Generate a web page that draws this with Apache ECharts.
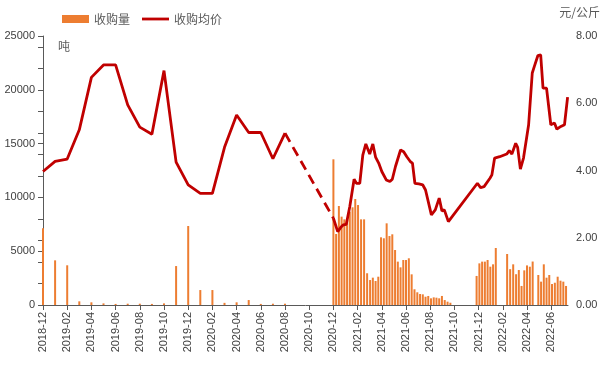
<!DOCTYPE html>
<html><head><meta charset="utf-8">
<script src="https://cdn.jsdelivr.net/npm/echarts@6/dist/echarts.min.js"></script>
<style>html,body{margin:0;padding:0;background:#fff}#c{width:608px;height:373px}</style>
</head><body><div id="c"></div>
<script>
// ---- data ----
const xTickLabels = ['2018-12','2019-02','2019-04','2019-06','2019-08','2019-10','2019-12','2020-02','2020-04','2020-06','2020-08','2020-10','2020-12','2021-02','2021-04','2021-06','2021-08','2021-10','2021-12','2022-02','2022-04','2022-06'];
const leftTicks = [0, 5000, 10000, 15000, 20000, 25000];
const rightTicks = [0, 2, 4, 6, 8];

const monthDates = ['2018-12-01','2019-01-01','2019-02-01','2019-03-01','2019-04-01','2019-05-01','2019-06-01','2019-07-01','2019-08-01','2019-09-01','2019-10-01','2019-11-01','2019-12-01','2020-01-01','2020-02-01','2020-03-01','2020-04-01','2020-05-01','2020-06-01','2020-07-01','2020-08-01'];
const monthVolume = [7130,4150,3690,340,250,150,100,120,120,100,150,3620,7340,1390,1390,200,250,460,100,120,120];
const monthPrice = [3.97,4.27,4.34,5.21,6.77,7.14,7.14,5.95,5.29,5.08,6.97,4.25,3.57,3.32,3.32,4.69,5.65,5.13,5.13,4.35,5.11];

const weekDates2021 = ['2020-12-01','2020-12-08','2020-12-15','2020-12-22','2020-12-29','2021-01-05','2021-01-12','2021-01-19','2021-01-26','2021-02-02','2021-02-09','2021-02-16','2021-02-23','2021-03-02','2021-03-09','2021-03-16','2021-03-23','2021-03-30','2021-04-06','2021-04-13','2021-04-20','2021-04-27','2021-05-04','2021-05-11','2021-05-18','2021-05-25','2021-06-01','2021-06-08','2021-06-15','2021-06-22','2021-06-29','2021-07-06','2021-07-13','2021-07-20','2021-07-27','2021-08-03','2021-08-10','2021-08-17','2021-08-24','2021-08-31','2021-09-07','2021-09-14','2021-09-21'];
const weekVolume2021 = [13540,6600,9200,8210,7960,7900,8670,9080,9850,9290,7960,7960,2950,2320,2540,2230,2630,6290,6200,7590,6410,6570,5110,4030,3500,4180,4180,4340,2850,1460,1180,1020,990,770,840,620,710,680,620,840,460,310,210];

const weekDates2022 = ['2021-11-26','2021-12-03','2021-12-10','2021-12-17','2021-12-24','2021-12-31','2022-01-07','2022-01-14','2022-02-11','2022-02-18','2022-02-25','2022-03-04','2022-03-11','2022-03-18','2022-03-25','2022-04-01','2022-04-08','2022-04-15','2022-04-29','2022-05-06','2022-05-13','2022-05-20','2022-05-27','2022-06-03','2022-06-10','2022-06-17','2022-06-24','2022-07-01','2022-07-08'];
const weekVolume2022 = [2700,3870,4030,4030,4180,3560,3780,5300,4740,3330,3780,2860,3250,1770,3220,3680,3560,4040,2790,2170,3780,2540,2790,1950,2070,2630,2260,2170,1770];

const priceDates = ['2020-12-01','2020-12-12','2020-12-20','2020-12-26','2021-01-03','2021-01-12','2021-01-23','2021-01-29','2021-02-06','2021-02-13','2021-02-20','2021-03-01','2021-03-09','2021-03-16','2021-03-24','2021-04-01','2021-04-12','2021-04-21','2021-04-27','2021-05-05','2021-05-18','2021-05-26','2021-06-03','2021-06-12','2021-06-17','2021-06-23','2021-07-03','2021-07-13','2021-07-20','2021-08-04','2021-08-14','2021-08-24','2021-08-31','2021-09-06','2021-09-16','2021-11-28','2021-12-06','2021-12-15','2021-12-30','2022-01-04','2022-01-11','2022-01-24','2022-02-10','2022-02-16','2022-02-22','2022-03-03','2022-03-08','2022-03-15','2022-03-23','2022-04-05','2022-04-14','2022-04-19','2022-04-28','2022-05-05','2022-05-11','2022-05-20','2022-05-31','2022-06-09','2022-06-15','2022-06-25','2022-07-04','2022-07-12'];
const priceValues = [2.58,2.18,2.31,2.38,2.40,2.93,3.74,3.62,3.62,4.46,4.79,4.49,4.79,4.40,4.22,3.97,3.72,3.67,3.74,4.12,4.61,4.56,4.41,4.26,4.22,3.62,3.60,3.57,3.42,2.68,2.83,3.18,2.80,2.83,2.48,3.62,3.49,3.52,3.77,3.87,4.37,4.41,4.49,4.59,4.49,4.81,4.69,4.04,4.37,5.36,6.90,7.09,7.42,7.44,6.45,6.45,5.36,5.41,5.23,5.31,5.36,6.18];

// ---- helpers ----
function toM(s) {
  const p = s.split('-').map(Number);
  const y = p[0], mo = p[1], d = p[2] || 1;
  const dim = new Date(y, mo, 0).getDate();
  return (y - 2018) * 12 + (mo - 12) + (d - 1) / dim;
}
function mLabel(v) {
  const total = 2018 * 12 + 11 + Math.round(v);
  const y = Math.floor(total / 12), mo = total % 12 + 1;
  return y + '-' + (mo < 10 ? '0' + mo : mo);
}
const xTickValues = xTickLabels.map(toM);
const xMax = toM('2022-07-13');

const barData = [].concat(
  monthDates.map((d, i) => [toM(d), monthVolume[i]]),
  weekDates2021.map((d, i) => [toM(d), weekVolume2021[i]]),
  weekDates2022.map((d, i) => [toM(d), weekVolume2022[i]])
);
const monthLine = monthDates.map((d, i) => [toM(d), monthPrice[i]]);
const gapLine = [
  [toM(monthDates[monthDates.length - 1]), monthPrice[monthPrice.length - 1]],
  [toM(priceDates[0]), priceValues[0]]
];
const weekLine = priceDates.map((d, i) => [toM(d), priceValues[i]]);

const numFont = '"Liberation Sans", "Noto Sans CJK SC", sans-serif';
const cjkFont = '"Noto Sans CJK SC", sans-serif';
const axisCol = '#595959';
const lblCol = '#404040';
const red = '#C00000';
const orange = '#ED7D31';
const lineW = 2.8;

const chart = echarts.init(document.getElementById('c'));
chart.setOption({
  animation: false,
  legend: {
    left: 62, top: 13, padding: 0, itemWidth: 27, itemHeight: 8, itemGap: 12,
    data: [
      { name: '收购量', icon: 'rect' },
      { name: '收购均价', icon: 'path://M0,0 L27,0 L27,2.8 L0,2.8 Z' }
    ],
    textStyle: { color: '#595959', fontSize: 12, fontFamily: cjkFont }
  },
  grid: { left: 43, right: 40, top: 36, bottom: 68, outerBoundsMode: 'none' },
  graphic: [
    { type: 'text', left: 58, top: 40, style: { text: '吨', fill: '#595959', font: '12px ' + cjkFont } },
    { type: 'text', right: 8, top: 6, style: { text: '元/公斤', fill: '#595959', font: '12px ' + cjkFont } }
  ],
  xAxis: {
    type: 'value', min: 0, max: xMax, interval: 2,
    axisLine: { show: true, lineStyle: { color: axisCol, width: 1 } },
    axisTick: { show: true, length: 5, customValues: xTickValues, lineStyle: { color: axisCol } },
    axisLabel: {
      rotate: 90, margin: 7, fontSize: 11, color: lblCol, fontFamily: numFont,
      customValues: xTickValues,
      formatter: v => mLabel(v)
    },
    splitLine: { show: false }
  },
  yAxis: [
    {
      type: 'value', position: 'left', min: leftTicks[0], max: leftTicks[leftTicks.length - 1], interval: leftTicks[1] - leftTicks[0],
      axisLine: { show: true, lineStyle: { color: axisCol } },
      axisTick: { show: true, length: 5, lineStyle: { color: axisCol } },
      axisLabel: { margin: 8, fontSize: 11, color: lblCol, fontFamily: numFont, formatter: v => String(v) },
      splitLine: { show: false }
    },
    {
      type: 'value', position: 'right', min: rightTicks[0], max: rightTicks[rightTicks.length - 1], interval: rightTicks[1] - rightTicks[0],
      axisLine: { show: false }, axisTick: { show: false },
      axisLabel: { margin: 8, fontSize: 11, color: lblCol, fontFamily: numFont, formatter: v => v.toFixed(2) },
      splitLine: { show: false }
    },
    {
      type: 'value', position: 'left', offset: 0, min: 0, max: 25000, interval: 2000,
      axisLine: { show: false },
      axisTick: { show: true, length: 5, lineStyle: { color: axisCol } },
      axisLabel: { show: false },
      splitLine: { show: false }
    }
  ],
  series: [
    {
      name: '收购量', type: 'bar', xAxisIndex: 0, yAxisIndex: 0, barWidth: 2,
      itemStyle: { color: orange }, data: barData
    },
    {
      name: '收购均价', type: 'line', yAxisIndex: 1, symbol: 'none',
      lineStyle: { color: red, width: lineW }, itemStyle: { color: red }, data: monthLine
    },
    {
      name: '收购均价', type: 'line', yAxisIndex: 1, symbol: 'none',
      lineStyle: { color: red, width: lineW, type: [10, 6] }, itemStyle: { color: red }, data: gapLine
    },
    {
      name: '收购均价', type: 'line', yAxisIndex: 1, symbol: 'none',
      lineStyle: { color: red, width: lineW }, itemStyle: { color: red }, data: weekLine
    }
  ]
});
</script>
</body></html>
